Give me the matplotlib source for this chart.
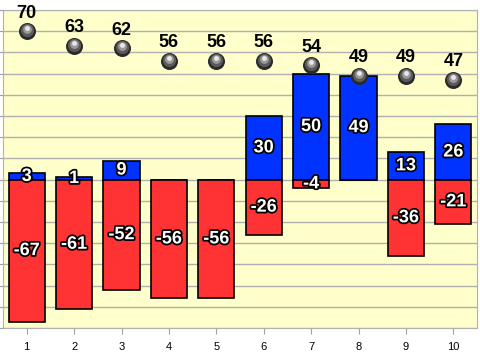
import matplotlib
matplotlib.use("Agg")
import matplotlib.pyplot as plt
import matplotlib.patheffects as pe
import numpy as np

categories = [1, 2, 3, 4, 5, 6, 7, 8, 9, 10]
gains = [3, 1, 9, 0, 0, 30, 50, 49, 13, 26]
losses = [-67, -61, -52, -56, -56, -26, -4, 0, -36, -21]
totals = [70, 63, 62, 56, 56, 56, 54, 49, 49, 47]

plt.rcParams['font.family'] = ['Liberation Sans', 'DejaVu Sans']

fig = plt.figure(figsize=(4.8, 3.54), dpi=100)
ax = fig.add_axes([3 / 480, 1 - 328 / 354, 474 / 480, 318 / 354])
ax.set_facecolor('#ffffcc')

x = np.array(categories)
w = 0.76
outline = [pe.withStroke(linewidth=2.5, foreground='black')]

ax.bar(x, gains, w, color='#0033ff', edgecolor='black', linewidth=1.2, zorder=3)
ax.bar(x, losses, w, color='#ff3333', edgecolor='black', linewidth=1.2, zorder=3)

for xi, v in zip(x, gains):
    if v != 0:
        ax.text(xi, v / 2, str(v), ha='center', va='center', color='white',
                fontsize=13, fontweight='bold', path_effects=outline, zorder=5)
for xi, v in zip(x, losses):
    if v != 0:
        ax.text(xi, v / 2, str(v), ha='center', va='center', color='white',
                fontsize=13, fontweight='bold', path_effects=outline, zorder=5)

# shaded balls for the totals
t = np.array(totals)
ax.scatter(x, t, s=150, color='#2a2a2a', zorder=6, linewidths=0)
ax.scatter(x, t + 0.4, s=90, color='#5a5a5a', zorder=7, linewidths=0)
ax.scatter(x, t + 0.9, s=40, color='#9a9a9a', zorder=8, linewidths=0)
ax.scatter(x, t + 1.3, s=12, color='#e8e8e8', zorder=9, linewidths=0)
for xi, v in zip(x, totals):
    ax.annotate(str(v), (xi, v), xytext=(0, 13), textcoords='offset points',
                ha='center', va='center', fontsize=13, fontweight='bold', color='black', zorder=10)

ax.set_xlim(0.5, 10.5)
ax.set_ylim(-70, 80)
ax.set_yticks(np.arange(-70, 81, 10))
ax.set_yticklabels([])
ax.grid(axis='y', color='#b0b0b0', linewidth=1, zorder=0)
ax.set_axisbelow(True)
ax.set_xticks(x)
ax.set_xticklabels([str(c) for c in categories], fontsize=8)
ax.tick_params(axis='both', colors='#a0a0a0', length=4, labelcolor='black')
ax.tick_params(axis='x', pad=6)
for s in ax.spines.values():
    s.set_color('#b0b0b0')

fig.savefig('out.png', dpi=100)
